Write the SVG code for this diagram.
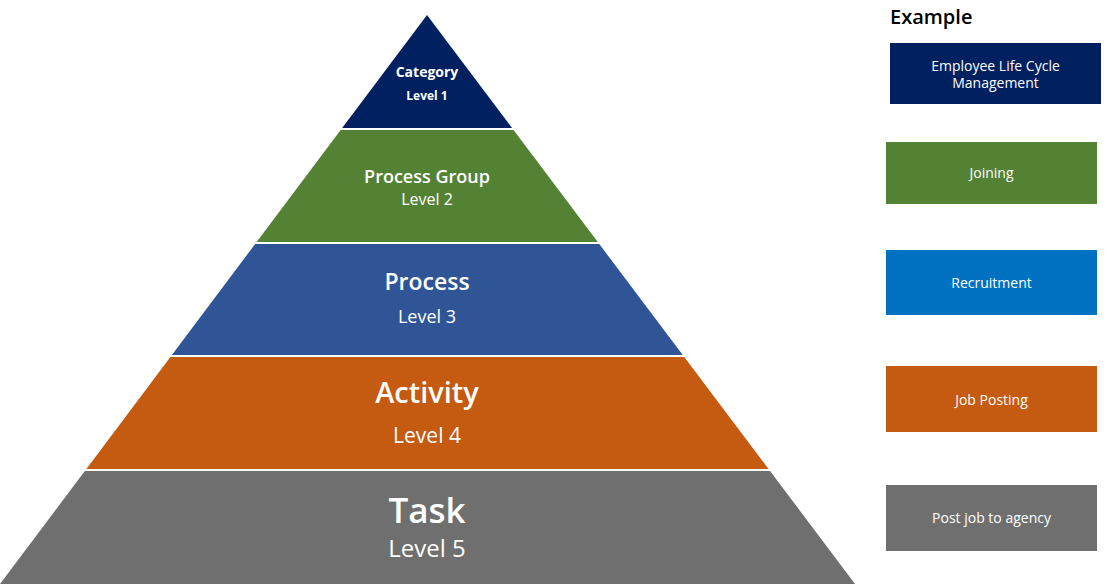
<svg xmlns="http://www.w3.org/2000/svg" width="1115" height="586" viewBox="0 0 1115 586">
<style>
text{font-family:"Open Sans","Noto Sans","Liberation Sans",sans-serif;fill:#fff;text-anchor:middle}
.sep{stroke:#fff;stroke-width:2}
.ex{font-size:14px}
.title{fill:#000;text-anchor:start;font-size:20px;font-weight:600}
</style>
<rect width="1115" height="586" fill="#fff"/>
<g id="level1">
<polygon points="427,15 512.8,129 341.4,129" fill="#002060"/>
<text x="427" y="77" font-size="14" font-weight="bold">Category</text>
<text x="427" y="100" font-size="12" font-weight="bold">Level 1</text>
</g>
<g id="level2">
<polygon points="341.4,129 512.8,129 598.5,243 255.9,243" fill="#548235"/>
<text x="427" y="183" font-size="18" font-weight="600">Process Group</text>
<text x="427" y="205" font-size="16">Level 2</text>
</g>
<g id="level3">
<polygon points="255.9,243 598.5,243 683.5,356 171.1,356" fill="#2F5597"/>
<text x="427" y="290" font-size="23" font-weight="600">Process</text>
<text x="427" y="323" font-size="18">Level 3</text>
</g>
<g id="level4">
<polygon points="171.1,356 683.5,356 769.3,470 85.6,470" fill="#C55A11"/>
<text x="427" y="403" font-size="29" font-weight="600">Activity</text>
<text x="427" y="443" font-size="21">Level 4</text>
</g>
<g id="level5">
<polygon points="85.6,470 769.3,470 855,584 0,584" fill="#6F6F6F"/>
<text x="427" y="523" font-size="35" font-weight="600">Task</text>
<text x="427" y="557" font-size="24">Level 5</text>
</g>
<g id="connectors">
<line class="sep" x1="330" y1="129" x2="525" y2="129"/>
<line class="sep" x1="245" y1="243" x2="610" y2="243"/>
<line class="sep" x1="160" y1="356" x2="695" y2="356"/>
<line class="sep" x1="75" y1="470" x2="780" y2="470"/>
</g>
<g id="example-title">
<text class="title" x="890" y="24">Example</text>
</g>
<g id="ex1">
<rect x="890" y="43" width="211" height="61" fill="#002060"/>
<text class="ex" x="995.5" y="71">Employee Life Cycle</text>
<text class="ex" x="995.5" y="88">Management</text>
</g>
<g id="ex2">
<rect x="886" y="142" width="211" height="62" fill="#548235"/>
<text class="ex" x="991.5" y="178">Joining</text>
</g>
<g id="ex3">
<rect x="886" y="250" width="211" height="65" fill="#0070C0"/>
<text class="ex" x="991.5" y="288">Recruitment</text>
</g>
<g id="ex4">
<rect x="886" y="366" width="211" height="66" fill="#C55A11"/>
<text class="ex" x="991.5" y="405">Job Posting</text>
</g>
<g id="ex5">
<rect x="886" y="485" width="211" height="66" fill="#6F6F6F"/>
<text class="ex" x="991.5" y="523">Post job to agency</text>
</g>
</svg>
